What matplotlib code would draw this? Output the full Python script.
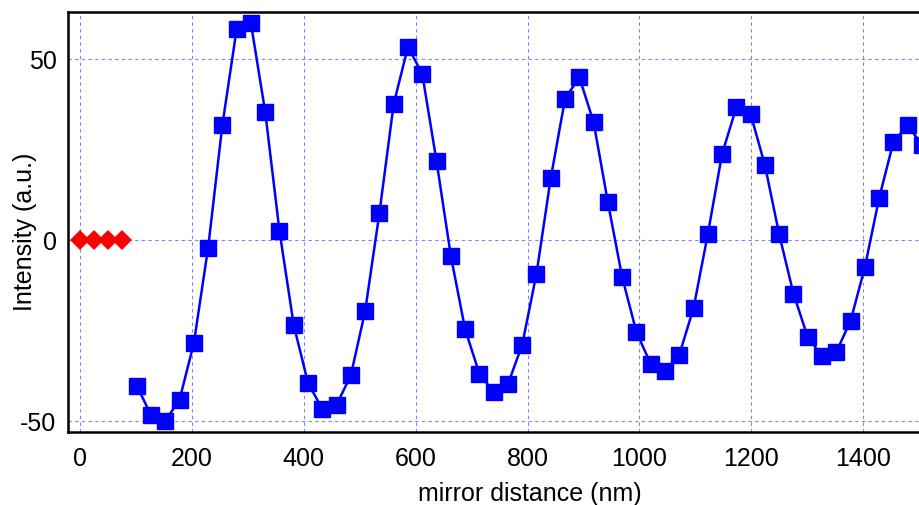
import numpy as np
import matplotlib
matplotlib.use("Agg")
import matplotlib.pyplot as plt

plt.rcParams['font.family'] = ['Liberation Sans', 'DejaVu Sans']
plt.rcParams['axes.unicode_minus'] = False

# reference points (red diamonds)
ref_x = [0, 25.5, 51, 76.5]
ref_y = [0, 0, 0, 0]

# measured intensity (blue squares)
dist_nm = [102, 127.5, 153, 178.5, 204, 229.5, 255, 280.5, 306, 331.5,
           357, 382.5, 408, 433.5, 459, 484.5, 510, 535.5, 561, 586.5,
           612, 637.5, 663, 688.5, 714, 739.5, 765, 790.5, 816, 841.5,
           867, 892.5, 918, 943.5, 969, 994.5, 1020, 1045.5, 1071, 1096.5,
           1122, 1147.5, 1173, 1198.5, 1224, 1249.5, 1275, 1300.5, 1326, 1351.5,
           1377, 1402.5, 1428, 1453.5, 1479, 1504.5]
intensity = [-40.2, -48.3, -49.9, -44.1, -28.5, -2.2, 31.8, 58.3, 59.9, 35.4,
             2.5, -23.5, -39.5, -46.6, -45.5, -37.3, -19.6, 7.5, 37.6, 53.4,
             45.9, 21.8, -4.3, -24.6, -36.9, -41.9, -39.8, -28.9, -9.3, 17.1,
             39.0, 45.0, 32.6, 10.5, -10.2, -25.4, -34.2, -36.1, -31.7, -18.8,
             1.6, 23.8, 36.7, 34.8, 20.7, 1.6, -14.8, -26.8, -32.0, -30.9,
             -22.3, -7.5, 11.6, 27.1, 31.8, 26.2]

xticks = [0, 200, 400, 600, 800, 1000, 1200, 1400]
yticks = [-50, 0, 50]

fig = plt.figure(figsize=(9.2, 5.05), dpi=100)
ax = fig.add_axes([0.0735, 0.1446, 0.9265, 0.8316])

ax.plot(dist_nm, intensity, color='#0000ff', lw=1.8, marker='s', ms=11,
        zorder=3)
ax.plot(ref_x, ref_y, color='#ff0000', lw=0, marker='D', ms=10,
        markeredgewidth=0, zorder=3)

ax.set_xlim(-21.4, 1501)
ax.set_ylim(-53, 63)
ax.set_xticks(xticks)
ax.set_yticks(yticks)
ax.tick_params(length=0, labelsize=18)
ax.tick_params(axis='x', pad=10.5)
ax.tick_params(axis='y', pad=8)

ax.grid(True, color='#8080ff', ls=(0, (3, 3)), lw=0.8)
ax.set_axisbelow(True)

for s in ['left', 'bottom', 'top']:
    ax.spines[s].set_linewidth(1.8)
    ax.spines[s].set_color('black')
ax.spines['right'].set_visible(False)

ax.set_xlabel("mirror distance (nm)", fontsize=18)
ax.set_ylabel("Intensity (a.u.)", fontsize=18)
ax.xaxis.set_label_coords(0.5426, -0.119)
ax.yaxis.set_label_coords(-0.0355, 0.476)

fig.savefig("out.png", dpi=100)
